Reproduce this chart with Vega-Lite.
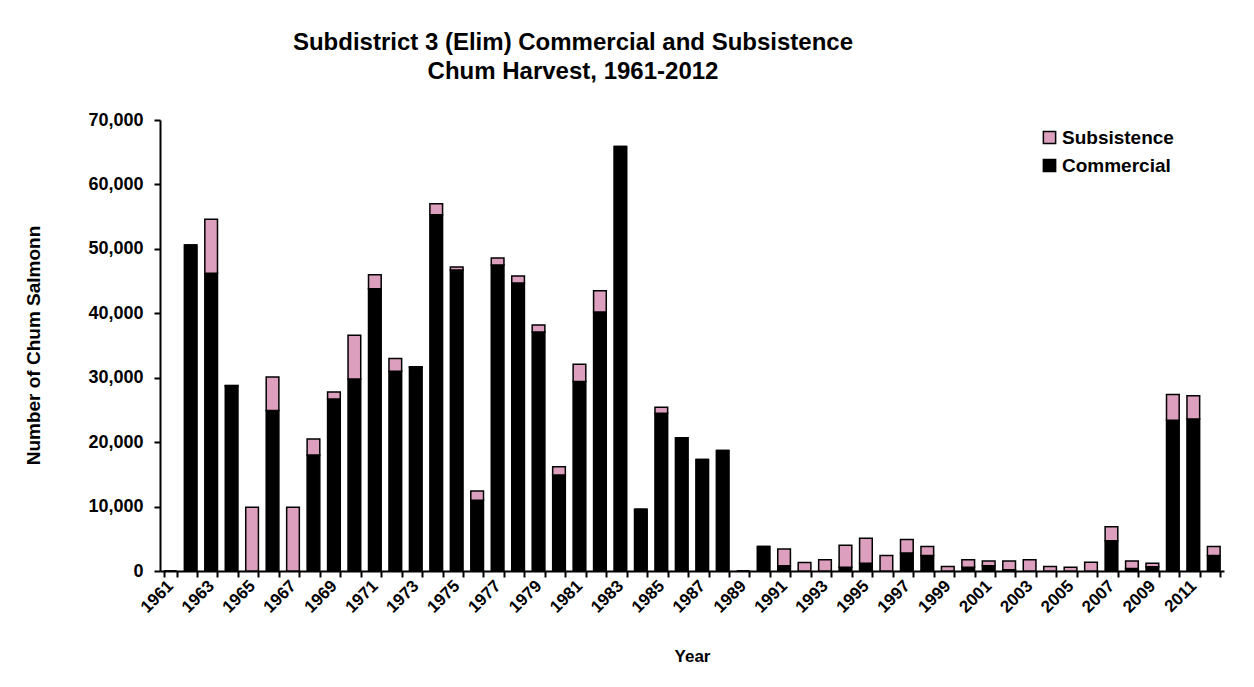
{
  "$schema": "https://vega.github.io/schema/vega-lite/v6.json",
  "width": 1064,
  "height": 451,
  "autosize": {"type": "none"},
  "padding": {"left": 160, "top": 120, "right": 30, "bottom": 116},
  "background": "white",
  "title": {
    "text": ["Subdistrict 3 (Elim) Commercial and Subsistence", "Chum Harvest, 1961-2012"],
    "font": "Liberation Sans",
    "fontSize": 24,
    "fontWeight": "bold",
    "color": "black",
    "anchor": "middle",
    "dx": -119,
    "lineHeight": 29,
    "offset": 27
  },
  "data": {
    "values": [
      {"Year": 1961, "Commercial": 0, "Subsistence": 0},
      {"Year": 1962, "Commercial": 50600, "Subsistence": 0},
      {"Year": 1963, "Commercial": 46200, "Subsistence": 8400},
      {"Year": 1964, "Commercial": 28700, "Subsistence": 100},
      {"Year": 1965, "Commercial": 0, "Subsistence": 9900},
      {"Year": 1966, "Commercial": 24900, "Subsistence": 5200},
      {"Year": 1967, "Commercial": 0, "Subsistence": 9900},
      {"Year": 1968, "Commercial": 18000, "Subsistence": 2500},
      {"Year": 1969, "Commercial": 26700, "Subsistence": 1100},
      {"Year": 1970, "Commercial": 29800, "Subsistence": 6800},
      {"Year": 1971, "Commercial": 43800, "Subsistence": 2200},
      {"Year": 1972, "Commercial": 31000, "Subsistence": 2000},
      {"Year": 1973, "Commercial": 31600, "Subsistence": 100},
      {"Year": 1974, "Commercial": 55300, "Subsistence": 1700},
      {"Year": 1975, "Commercial": 46700, "Subsistence": 500},
      {"Year": 1976, "Commercial": 11000, "Subsistence": 1400},
      {"Year": 1977, "Commercial": 47500, "Subsistence": 1100},
      {"Year": 1978, "Commercial": 44700, "Subsistence": 1100},
      {"Year": 1979, "Commercial": 37100, "Subsistence": 1100},
      {"Year": 1980, "Commercial": 14900, "Subsistence": 1300},
      {"Year": 1981, "Commercial": 29400, "Subsistence": 2700},
      {"Year": 1982, "Commercial": 40200, "Subsistence": 3300},
      {"Year": 1983, "Commercial": 65900, "Subsistence": 0},
      {"Year": 1984, "Commercial": 9600, "Subsistence": 0},
      {"Year": 1985, "Commercial": 24500, "Subsistence": 900},
      {"Year": 1986, "Commercial": 20700, "Subsistence": 0},
      {"Year": 1987, "Commercial": 17300, "Subsistence": 0},
      {"Year": 1988, "Commercial": 18700, "Subsistence": 0},
      {"Year": 1989, "Commercial": 0, "Subsistence": 0},
      {"Year": 1990, "Commercial": 3800, "Subsistence": 0},
      {"Year": 1991, "Commercial": 800, "Subsistence": 2600},
      {"Year": 1992, "Commercial": 0, "Subsistence": 1300},
      {"Year": 1993, "Commercial": 0, "Subsistence": 1750},
      {"Year": 1994, "Commercial": 600, "Subsistence": 3400},
      {"Year": 1995, "Commercial": 1200, "Subsistence": 3900},
      {"Year": 1996, "Commercial": 0, "Subsistence": 2400},
      {"Year": 1997, "Commercial": 2800, "Subsistence": 2100},
      {"Year": 1998, "Commercial": 2400, "Subsistence": 1400},
      {"Year": 1999, "Commercial": 0, "Subsistence": 700},
      {"Year": 2000, "Commercial": 600, "Subsistence": 1150},
      {"Year": 2001, "Commercial": 800, "Subsistence": 750},
      {"Year": 2002, "Commercial": 200, "Subsistence": 1350},
      {"Year": 2003, "Commercial": 0, "Subsistence": 1750},
      {"Year": 2004, "Commercial": 0, "Subsistence": 700},
      {"Year": 2005, "Commercial": 0, "Subsistence": 570},
      {"Year": 2006, "Commercial": 0, "Subsistence": 1350},
      {"Year": 2007, "Commercial": 4700, "Subsistence": 2150},
      {"Year": 2008, "Commercial": 400, "Subsistence": 1150},
      {"Year": 2009, "Commercial": 650, "Subsistence": 550},
      {"Year": 2010, "Commercial": 23400, "Subsistence": 4000},
      {"Year": 2011, "Commercial": 23600, "Subsistence": 3600},
      {"Year": 2012, "Commercial": 2400, "Subsistence": 1400}
    ]
  },
  "transform": [
    {"fold": ["Commercial", "Subsistence"], "as": ["Type", "Count"]}
  ],
  "mark": {"type": "bar", "stroke": "black", "strokeWidth": 1.5},
  "encoding": {
    "x": {
      "field": "Year",
      "type": "ordinal",
      "scale": {"paddingInner": 0.38, "paddingOuter": 0.19},
      "axis": {
        "title": "Year",
        "titleFont": "Liberation Sans",
        "titleFontSize": 17,
        "titleFontWeight": "bold",
        "titleColor": "black",
        "titleY": 77,
        "labelAngle": -45,
        "labelAlign": "right",
        "labelBaseline": "middle",
        "labelFont": "Liberation Sans",
        "labelFontSize": 17,
        "labelFontWeight": "bold",
        "labelColor": "black",
        "labelExpr": "datum.value % 2 == 1 ? datum.label : ''",
        "labelOverlap": false,
        "labelPadding": 6,
        "tickBand": "extent",
        "tickSize": 6,
        "tickWidth": 2,
        "tickColor": "black",
        "domainColor": "black",
        "domainWidth": 2
      }
    },
    "y": {
      "field": "Count",
      "type": "quantitative",
      "stack": "zero",
      "scale": {"domain": [0, 70000]},
      "axis": {
        "title": "Number of Chum Salmonn",
        "titleFont": "Liberation Sans",
        "titleFontSize": 19,
        "titleFontWeight": "bold",
        "titleColor": "black",
        "titleX": -117,
        "titleY": 225,
        "values": [0, 10000, 20000, 30000, 40000, 50000, 60000, 70000],
        "format": ",.0f",
        "labelFont": "Liberation Sans",
        "labelFontSize": 18,
        "labelFontWeight": "bold",
        "labelColor": "black",
        "labelPadding": 11,
        "tickSize": 6,
        "tickWidth": 2,
        "tickColor": "black",
        "domainColor": "black",
        "domainWidth": 2,
        "grid": false
      }
    },
    "color": {
      "field": "Type",
      "type": "nominal",
      "scale": {"domain": ["Subsistence", "Commercial"], "range": ["#dca0be", "#000000"]},
      "legend": {
        "title": null,
        "orient": "none",
        "legendX": 880,
        "legendY": 8,
        "symbolType": "square",
        "symbolSize": 150,
        "symbolStrokeColor": "black",
        "symbolStrokeWidth": 1.5,
        "symbolOpacity": 1,
        "labelFont": "Liberation Sans",
        "labelFontSize": 19,
        "labelFontWeight": "bold",
        "labelColor": "black",
        "labelOffset": 3,
        "rowPadding": 8
      }
    },
    "order": {"field": "Type", "sort": "ascending"}
  },
  "config": {"view": {"stroke": null}}
}
